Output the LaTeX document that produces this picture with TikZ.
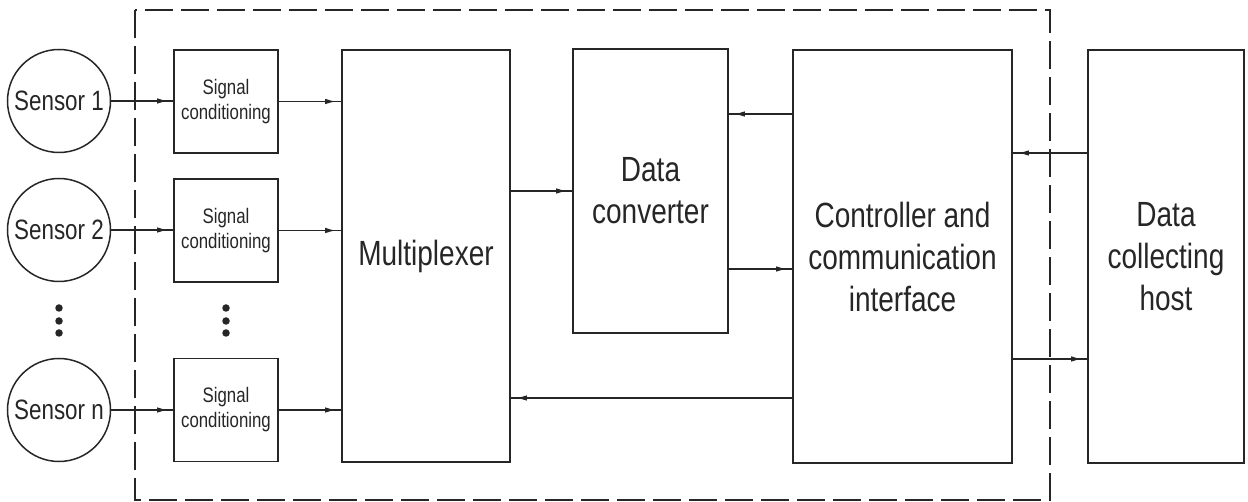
\documentclass[tikz,border=0pt]{standalone}
\usepackage{fontspec}
\setmainfont{Liberation Sans}[FakeStretch=0.8]
\usetikzlibrary{arrows.meta,decorations.markings}
\definecolor{ink}{HTML}{262626}
\tikzset{
  blk/.style={draw=ink, line width=1.7pt, rectangle, inner sep=0pt, align=center, text=ink,
    font=\fontsize{35}{42}\selectfont},
  scbox/.style={blk, minimum width=104pt, minimum height=103pt, font=\fontsize{21}{25}\selectfont},
  sensor/.style={draw=ink, line width=1.5pt, circle, inner sep=0pt, minimum size=103pt, text=ink,
    font=\fontsize{28}{34}\selectfont},
  flow/.style={draw=ink, line width=1.5pt, postaction={decorate},
    decoration={markings, mark=at position -5pt with {\arrow{Latex[length=11pt,width=5.5pt]}}}},
  frame/.style={draw=ink, line width=1.6pt, dash pattern=on 28pt off 8pt},
  dotmark/.style={circle, fill=ink, inner sep=0pt, minimum size=7.5pt}
}
\begin{document}
\begin{tikzpicture}[x=1pt,y=-1pt]
\useasboundingbox (0,0) rectangle (1248,502);
\draw[frame] (135,10) rectangle (1050,500);

\node[sensor] (s1) at (59,101) {Sensor 1};
\node[sensor] (s2) at (59,230) {Sensor 2};
\node[sensor] (sn) at (59,410) {Sensor n};

\node[scbox] (sc1) at (226,101.5) {Signal\\conditioning};
\node[scbox] (sc2) at (226,230.5) {Signal\\conditioning};
\node[scbox] (scn) at (226,410) {Signal\\conditioning};

\node[dotmark] (d1) at (59,308) {};
\node[dotmark] (d2) at (59,321) {};
\node[dotmark] (d3) at (59,333) {};
\node[dotmark] (e1) at (226,308) {};
\node[dotmark] (e2) at (226,321) {};
\node[dotmark] (e3) at (226,333) {};

\node[blk, minimum width=168pt, minimum height=412pt] (mux) at (426,256) {Multiplexer};
\node[blk, minimum width=155pt, minimum height=284pt] (dc) at (650.5,191) {Data\\converter};
\node[blk, minimum width=219pt, minimum height=413pt] (ctrl) at (902.5,256.5) {Controller and\\communication\\interface};
\node[blk, minimum width=156pt, minimum height=413pt] (host) at (1166,256.5) {Data\\collecting\\host};

\draw[flow] (s1.east) -- (sc1.west |- s1.east);
\draw[flow] (s2.east) -- (sc2.west |- s2.east);
\draw[flow] (sn.east) -- (scn.west |- sn.east);
\draw[flow] (sc1.east) -- (sc1.east -| mux.west);
\draw[flow] (sc2.east) -- (sc2.east -| mux.west);
\draw[flow] (scn.east) -- (scn.east -| mux.west);

\draw[flow] (mux.east |- dc.west) -- (dc.west);
\draw[flow] ([yshift=142.5pt]ctrl.west) coordinate (c1) -- (c1 -| dc.east);
\draw[flow] ([yshift=-78pt]dc.east) coordinate (c2) -- (c2 -| ctrl.west);
\draw[flow] ([yshift=-141.5pt]ctrl.west) coordinate (c3) -- (c3 -| mux.east);
\draw[flow] ([yshift=103.5pt]host.west) coordinate (c4) -- (c4 -| ctrl.east);
\draw[flow] ([yshift=-102.5pt]ctrl.east) coordinate (c5) -- (c5 -| host.west);
\end{tikzpicture}
\end{document}
